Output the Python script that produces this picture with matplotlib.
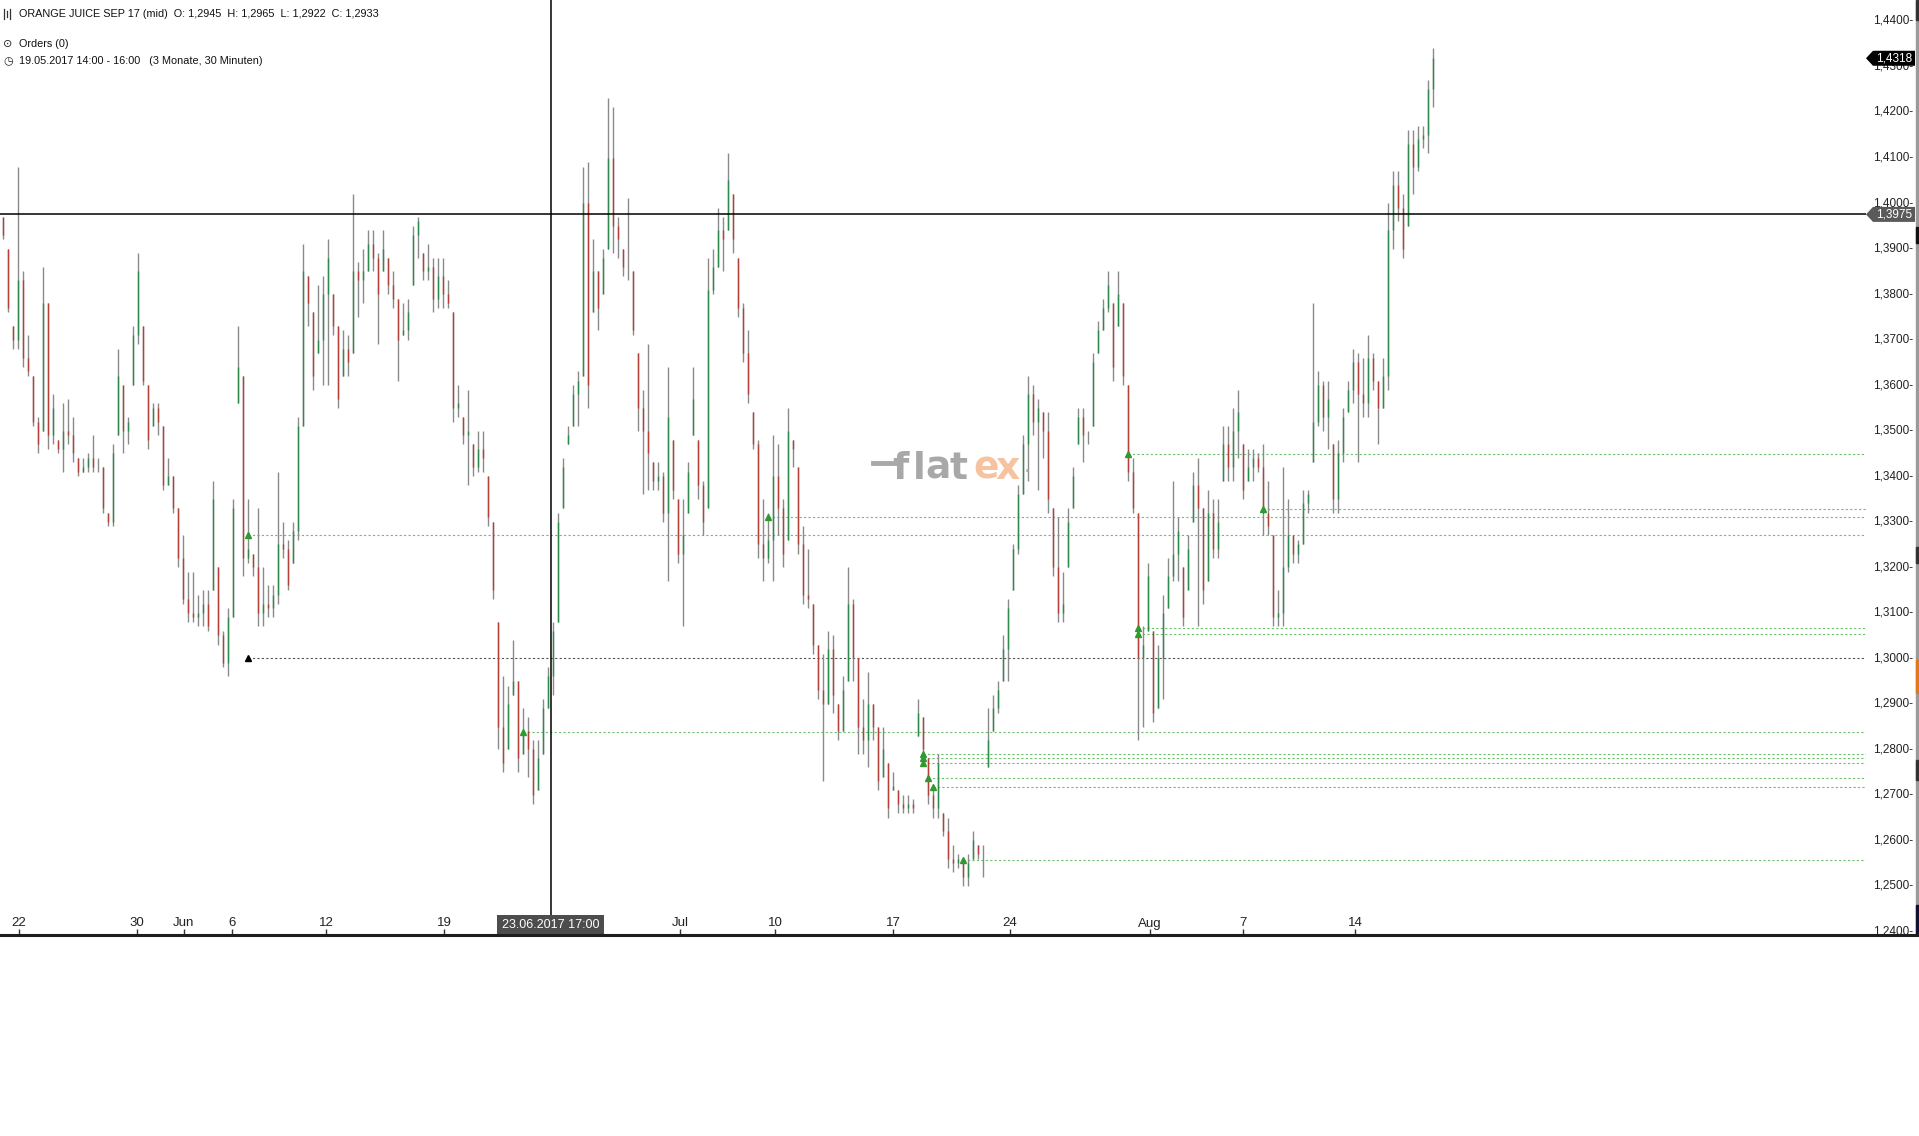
import numpy as np
import matplotlib
matplotlib.use("Agg")
import matplotlib.pyplot as plt
from matplotlib.patches import Polygon, Rectangle
from matplotlib.lines import Line2D
from matplotlib.transforms import blended_transform_factory

# 30-minute bars (every other bar kept)
HIGH = [1.397, 1.390, 1.373, 1.408, 1.385, 1.371, 1.362, 1.353, 1.386, 1.378,
        1.358, 1.348, 1.356, 1.357, 1.353, 1.344, 1.344, 1.345, 1.349, 1.344,
        1.342, 1.332, 1.347, 1.368, 1.360, 1.353, 1.373, 1.389, 1.373, 1.360,
        1.356, 1.356, 1.351, 1.344, 1.340, 1.333, 1.327, 1.319, 1.319, 1.314,
        1.315, 1.315, 1.339, 1.320, 1.306, 1.311, 1.335, 1.373, 1.362, 1.335,
        1.323, 1.333, 1.320, 1.316, 1.316, 1.341, 1.330, 1.326, 1.330, 1.353,
        1.391, 1.384, 1.376, 1.382, 1.384, 1.392, 1.380, 1.373, 1.372, 1.371,
        1.402, 1.387, 1.390, 1.394, 1.394, 1.389, 1.394, 1.388, 1.385, 1.379,
        1.378, 1.379, 1.395, 1.397, 1.389, 1.391, 1.388, 1.388, 1.388, 1.383,
        1.376, 1.360, 1.353, 1.359, 1.347, 1.350, 1.350, 1.340, 1.330, 1.308,
        1.296, 1.294, 1.304, 1.295, 1.289, 1.287, 1.282, 1.282, 1.291, 1.298,
        1.308, 1.332, 1.344, 1.351, 1.360, 1.363, 1.408, 1.409, 1.392, 1.385,
        1.390, 1.423, 1.421, 1.397, 1.390, 1.401, 1.385, 1.367, 1.359, 1.369,
        1.343, 1.343, 1.341, 1.364, 1.348, 1.335, 1.335, 1.343, 1.364, 1.348,
        1.339, 1.388, 1.390, 1.399, 1.397, 1.411, 1.402, 1.388, 1.378, 1.372,
        1.354, 1.348, 1.335, 1.332, 1.349, 1.347, 1.335, 1.355, 1.348, 1.342,
        1.329, 1.324, 1.312, 1.303, 1.301, 1.306, 1.305, 1.290, 1.296, 1.320,
        1.313, 1.300, 1.291, 1.297, 1.290, 1.285, 1.285, 1.277, 1.275, 1.271,
        1.270, 1.270, 1.269, 1.291, 1.287, 1.278, 1.271, 1.279, 1.266, 1.265,
        1.259, 1.257, 1.256, 1.257, 1.262, 1.259, 1.259, 1.289, 1.292, 1.295,
        1.305, 1.313, 1.325, 1.338, 1.349, 1.362, 1.360, 1.357, 1.354, 1.354,
        1.333, 1.331, 1.319, 1.333, 1.342, 1.355, 1.355, 1.350, 1.367, 1.374,
        1.379, 1.385, 1.378, 1.385, 1.378, 1.360, 1.344, 1.332, 1.307, 1.321,
        1.306, 1.303, 1.314, 1.322, 1.339, 1.331, 1.320, 1.327, 1.341, 1.344,
        1.333, 1.337, 1.335, 1.335, 1.351, 1.351, 1.355, 1.359, 1.347, 1.346,
        1.346, 1.345, 1.347, 1.339, 1.327, 1.315, 1.342, 1.335, 1.327, 1.326,
        1.337, 1.337, 1.378, 1.363, 1.361, 1.361, 1.347, 1.348, 1.355, 1.361,
        1.368, 1.367, 1.366, 1.371, 1.367, 1.361, 1.366, 1.400, 1.407, 1.407,
        1.402, 1.416, 1.416, 1.417, 1.417, 1.427, 1.434]
LOW = [1.392, 1.376, 1.368, 1.368, 1.364, 1.362, 1.351, 1.345, 1.350, 1.346,
       1.347, 1.345, 1.341, 1.347, 1.343, 1.340, 1.341, 1.341, 1.341, 1.341,
       1.332, 1.329, 1.329, 1.349, 1.345, 1.347, 1.360, 1.369, 1.360, 1.346,
       1.351, 1.349, 1.337, 1.338, 1.332, 1.320, 1.312, 1.308, 1.308, 1.307,
       1.307, 1.306, 1.315, 1.303, 1.298, 1.296, 1.309, 1.356, 1.318, 1.321,
       1.318, 1.307, 1.307, 1.309, 1.309, 1.312, 1.322, 1.315, 1.321, 1.326,
       1.351, 1.373, 1.359, 1.367, 1.360, 1.360, 1.371, 1.355, 1.362, 1.362,
       1.367, 1.375, 1.378, 1.385, 1.385, 1.369, 1.385, 1.380, 1.377, 1.361,
       1.371, 1.370, 1.382, 1.388, 1.383, 1.383, 1.376, 1.377, 1.377, 1.377,
       1.352, 1.353, 1.347, 1.338, 1.340, 1.341, 1.341, 1.329, 1.313, 1.280,
       1.275, 1.280, 1.292, 1.275, 1.279, 1.274, 1.268, 1.271, 1.279, 1.289,
       1.292, 1.308, 1.333, 1.347, 1.351, 1.351, 1.362, 1.355, 1.376, 1.372,
       1.380, 1.390, 1.389, 1.388, 1.384, 1.383, 1.371, 1.350, 1.336, 1.337,
       1.337, 1.337, 1.330, 1.317, 1.335, 1.321, 1.307, 1.332, 1.349, 1.335,
       1.327, 1.333, 1.380, 1.386, 1.385, 1.394, 1.389, 1.375, 1.365, 1.356,
       1.346, 1.322, 1.317, 1.321, 1.317, 1.327, 1.320, 1.326, 1.342, 1.323,
       1.312, 1.311, 1.301, 1.291, 1.273, 1.290, 1.288, 1.282, 1.284, 1.295,
       1.295, 1.279, 1.279, 1.276, 1.282, 1.271, 1.274, 1.265, 1.271, 1.266,
       1.266, 1.266, 1.266, 1.283, 1.278, 1.268, 1.265, 1.265, 1.261, 1.254,
       1.253, 1.254, 1.250, 1.250, 1.256, 1.256, 1.252, 1.276, 1.284, 1.288,
       1.295, 1.295, 1.315, 1.323, 1.336, 1.339, 1.349, 1.337, 1.344, 1.332,
       1.318, 1.308, 1.308, 1.320, 1.333, 1.347, 1.343, 1.347, 1.351, 1.367,
       1.372, 1.376, 1.361, 1.373, 1.360, 1.339, 1.332, 1.282, 1.285, 1.306,
       1.286, 1.289, 1.291, 1.311, 1.317, 1.317, 1.307, 1.315, 1.330, 1.307,
       1.312, 1.317, 1.322, 1.322, 1.339, 1.339, 1.339, 1.344, 1.335, 1.339,
       1.339, 1.341, 1.327, 1.327, 1.307, 1.307, 1.307, 1.319, 1.321, 1.321,
       1.325, 1.332, 1.343, 1.351, 1.350, 1.346, 1.332, 1.332, 1.343, 1.354,
       1.356, 1.343, 1.353, 1.353, 1.359, 1.347, 1.355, 1.359, 1.390, 1.396,
       1.388, 1.395, 1.402, 1.407, 1.412, 1.411, 1.421]
CLOSE = [1.393, 1.377, 1.370, 1.383, 1.366, 1.363, 1.352, 1.347, 1.378, 1.349,
         1.355, 1.346, 1.350, 1.349, 1.345, 1.341, 1.342, 1.344, 1.342, 1.342,
         1.333, 1.330, 1.345, 1.362, 1.350, 1.352, 1.371, 1.385, 1.361, 1.348,
         1.355, 1.352, 1.338, 1.340, 1.333, 1.322, 1.313, 1.310, 1.309, 1.310,
         1.312, 1.307, 1.335, 1.305, 1.299, 1.309, 1.333, 1.364, 1.322, 1.324,
         1.320, 1.310, 1.312, 1.311, 1.314, 1.325, 1.324, 1.316, 1.328, 1.351,
         1.385, 1.378, 1.362, 1.370, 1.380, 1.388, 1.373, 1.357, 1.368, 1.365,
         1.385, 1.383, 1.385, 1.391, 1.388, 1.380, 1.390, 1.382, 1.379, 1.370,
         1.372, 1.376, 1.393, 1.396, 1.385, 1.386, 1.379, 1.384, 1.380, 1.378,
         1.355, 1.356, 1.349, 1.350, 1.342, 1.346, 1.344, 1.331, 1.315, 1.285,
         1.277, 1.290, 1.295, 1.278, 1.284, 1.280, 1.270, 1.278, 1.289, 1.296,
         1.306, 1.330, 1.342, 1.349, 1.358, 1.361, 1.400, 1.360, 1.385, 1.377,
         1.388, 1.410, 1.395, 1.392, 1.386, 1.386, 1.372, 1.355, 1.350, 1.345,
         1.339, 1.340, 1.332, 1.353, 1.337, 1.323, 1.327, 1.341, 1.357, 1.338,
         1.330, 1.381, 1.386, 1.394, 1.392, 1.405, 1.392, 1.377, 1.367, 1.358,
         1.347, 1.325, 1.322, 1.326, 1.340, 1.333, 1.323, 1.350, 1.346, 1.325,
         1.314, 1.313, 1.303, 1.293, 1.290, 1.302, 1.292, 1.284, 1.293, 1.312,
         1.300, 1.285, 1.282, 1.290, 1.285, 1.273, 1.280, 1.267, 1.272, 1.268,
         1.267, 1.268, 1.267, 1.288, 1.280, 1.270, 1.267, 1.277, 1.262, 1.256,
         1.255, 1.256, 1.252, 1.255, 1.260, 1.257, 1.257, 1.282, 1.289, 1.293,
         1.302, 1.311, 1.324, 1.336, 1.347, 1.358, 1.352, 1.355, 1.350, 1.335,
         1.320, 1.310, 1.312, 1.330, 1.340, 1.353, 1.349, 1.349, 1.365, 1.372,
         1.377, 1.382, 1.364, 1.380, 1.362, 1.341, 1.333, 1.300, 1.303, 1.318,
         1.288, 1.300, 1.310, 1.318, 1.323, 1.328, 1.309, 1.324, 1.338, 1.333,
         1.315, 1.332, 1.324, 1.330, 1.347, 1.342, 1.350, 1.354, 1.337, 1.342,
         1.344, 1.342, 1.332, 1.329, 1.309, 1.310, 1.320, 1.327, 1.323, 1.325,
         1.334, 1.336, 1.352, 1.360, 1.353, 1.357, 1.335, 1.345, 1.353, 1.359,
         1.365, 1.358, 1.356, 1.366, 1.361, 1.355, 1.362, 1.394, 1.404, 1.399,
         1.390, 1.413, 1.408, 1.414, 1.415, 1.425, 1.4318]

TICK_POS = [3.3, 26.9, 36.3, 45.9, 64.7, 88.3, 135.5, 154.5, 178.1, 201.5, 229.4, 248.1, 270.5]
TICK_LABELS = ["22", "30", "Jun", "6", "12", "19", "Jul", "10", "17", "24", "Aug", "7", "14"]

# order levels (green) and the bar where each one starts
ORDER_LEVELS = [1.3271, 1.2838, 1.3310, 1.2790, 1.2780, 1.2770, 1.2736, 1.2717,
                1.2556, 1.3448, 1.3067, 1.3053, 1.3328]
ORDER_START = [49, 104, 153, 184, 184, 184, 185, 186, 192, 225, 227, 227, 252]
ALARM_LEVEL = 1.3000
ALARM_START = 49

CROSS_X = 109.6
CROSS_Y = 1.3975
CROSS_LABEL = "23.06.2017 17:00"
LAST_PRICE = 1.4318

W, H = 1919, 1136
PLOT_R, PLOT_B = 1866, 935
YMIN, YMAX = 1.2392, 1.4446
XMAX = (PLOT_R - 2.5) / 5

FONT = ["Liberation Sans", "DejaVu Sans"]
NARROW = ["Liberation Sans Narrow", "Liberation Sans", "DejaVu Sans"]

fig = plt.figure(figsize=(W / 100, H / 100), dpi=100)
fig.patch.set_facecolor("white")
ax = fig.add_axes([0, (H - PLOT_B) / H, PLOT_R / W, PLOT_B / H])
ax.set_xlim(-0.5, XMAX)
ax.set_ylim(YMIN, YMAX)
for s in ax.spines.values():
    s.set_visible(False)
ax.set_yticks([])

high = np.array(HIGH)
low = np.array(LOW)
close = np.array(CLOSE)
idx = np.arange(len(close))
opn = np.clip(np.r_[high[0], close[:-1]], low, high)
up = close >= opn

# bars: grey high-low line, coloured open-close part
ax.vlines(idx, low, high, color="#8a8a8a", lw=1.0, zorder=3)
ax.vlines(idx, opn, close, colors=np.where(up, "#2e8b4e", "#b5403a"), lw=1.0, zorder=4)

# order lines
for lvl, st in zip(ORDER_LEVELS, ORDER_START):
    ax.hlines(lvl, st, XMAX, color="#6cbf6c", lw=0.8, linestyles=(0, (2, 2)), zorder=2)
    ax.plot(st, lvl, marker="^", ms=5, color="#2f9a2f", mec="#2f9a2f", zorder=5)
ax.hlines(ALARM_LEVEL, ALARM_START, XMAX, color="#555555", lw=0.8, linestyles=(0, (2, 2)), zorder=2)
ax.plot(ALARM_START, ALARM_LEVEL, marker="^", ms=5, color="black", zorder=5)

# crosshair
ax.axhline(CROSS_Y, color="black", lw=1.1, zorder=6)
ax.axvline(CROSS_X, color="black", lw=1.1, zorder=6)

# x ticks inside the plot
ax.set_xticks(TICK_POS)
ax.tick_params(axis="x", direction="in", length=4, width=1, color="#333333", labelbottom=False)
xt = ax.get_xaxis_transform()
for p, lab in zip(TICK_POS, TICK_LABELS):
    ax.text(p, 11.5 / PLOT_B, lab, transform=xt, ha="center", va="center",
            fontsize=9.5, family=NARROW, color="#222222")
ax.text(CROSS_X, 10 / PLOT_B, CROSS_LABEL, transform=xt, ha="center", va="center",
        fontsize=9, family=NARROW, color="white", zorder=8,
        bbox=dict(boxstyle="square,pad=0.35", fc="#4d4d4d", ec="none"))

# right price scale
yt = blended_transform_factory(fig.transFigure, ax.transData)
for k in range(21):
    v = 1.24 + k * 0.01
    ax.text(1913 / W, v, f"{v:.4f}".replace(".", ",") + "-", transform=yt,
            ha="right", va="center", fontsize=8.5, family=FONT, color="#222222", clip_on=False)


def price_tag(v, fc):
    hh = 7.5 / 4553
    pts = [(1866 / W, v), (1873 / W, v + hh), (1915 / W, v + hh), (1915 / W, v - hh), (1873 / W, v - hh)]
    ax.add_patch(Polygon(pts, closed=True, transform=yt, fc=fc, ec="none", zorder=9, clip_on=False))
    ax.text(1894 / W, v, f"{v:.4f}".replace(".", ","), transform=yt, ha="center", va="center",
            fontsize=8.5, family=FONT, color="white", zorder=10, clip_on=False)


price_tag(LAST_PRICE, "black")
price_tag(CROSS_Y, "#5a5a5a")

# bottom axis line and right edge strip
fig.add_artist(Line2D([0, 1], [(H - PLOT_B) / H] * 2, color="#1e1e1e", lw=2.2))
fig.add_artist(Rectangle((1916 / W, (H - PLOT_B) / H), 3 / W, PLOT_B / H, color="#9a9a9a"))
for y0, y1, c in [(0, 20, "#333333"), (227, 243, "#111111"), (547, 563, "#333333"),
                  (660, 693, "#e07820"), (760, 780, "#333333"), (905, 935, "#111133")]:
    fig.add_artist(Rectangle((1916 / W, 1 - y1 / H), 3 / W, (y1 - y0) / H, color=c))

# header
fig.text(19 / W, 1 - 14 / H, "ORANGE JUICE SEP 17 (mid)  O: 1,2945  H: 1,2965  L: 1,2922  C: 1,2933",
         fontsize=7.8, family=FONT, va="center", color="#111111")
for dx, a, b in [(4, 9, 19), (7, 11, 17), (10, 9, 19)]:
    fig.add_artist(Line2D([dx / W] * 2, [1 - b / H, 1 - a / H], color="#333333", lw=0.9))
fig.text(3 / W, 1 - 44 / H, "⊙", fontsize=8, family=["DejaVu Sans"], va="center", color="#222222")
fig.text(19 / W, 1 - 44 / H, "Orders (0)", fontsize=7.8, family=FONT, va="center", color="#111111")
fig.text(3 / W, 1 - 61 / H, "◷", fontsize=8, family=["DejaVu Sans"], va="center", color="#222222")
fig.text(19 / W, 1 - 61 / H, "19.05.2017 14:00 - 16:00   (3 Monate, 30 Minuten)",
         fontsize=7.8, family=FONT, va="center", color="#111111")

# watermark
fig.add_artist(Line2D([873 / W, 895 / W], [1 - 463 / H] * 2, color="#a8a8a8", lw=3.5))
for ch, xl, col in [("f", 892, "#a8a8a8"), ("l", 913, "#a8a8a8"), ("a", 925, "#a8a8a8"),
                    ("t", 949, "#a8a8a8"), ("e", 973, "#f6c3a0"), ("x", 995, "#f6c3a0")]:
    fig.text(xl / W, 1 - 469 / H, ch, fontsize=27, family=["DejaVu Sans"], va="center",
             color=col, fontweight="bold")
fig.text(1024 / W, 1 - 472 / H, "·", fontsize=16, family=["DejaVu Sans"], va="center", color="#a8a8a8")

fig.savefig("out.png", dpi=100, facecolor="white")
